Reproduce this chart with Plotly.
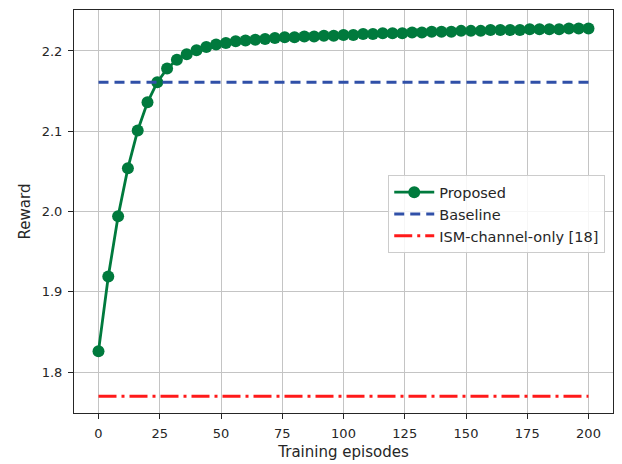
import plotly.graph_objects as go

episodes = list(range(0, 201, 4))
proposed = [1.826, 1.919, 1.994, 2.054, 2.101, 2.136, 2.161, 2.178, 2.189, 2.196,
            2.201, 2.205, 2.208, 2.210, 2.212, 2.213, 2.214, 2.215, 2.216, 2.217,
            2.217, 2.218, 2.218, 2.219, 2.219, 2.220, 2.220, 2.221, 2.221, 2.222,
            2.222, 2.222, 2.223, 2.223, 2.224, 2.224, 2.224, 2.225, 2.225, 2.225,
            2.226, 2.226, 2.226, 2.226, 2.227, 2.227, 2.227, 2.227, 2.228, 2.228,
            2.228]
baseline_x = [0, 200]
baseline = [2.161, 2.161]
ism_x = [0, 200]
ism = [1.770, 1.770]

x_ticks = [0, 25, 50, 75, 100, 125, 150, 175, 200]
y_ticks = [1.8, 1.9, 2.0, 2.1, 2.2]

fig = go.Figure()
fig.add_trace(go.Scatter(x=episodes, y=proposed, mode="lines+markers", name="Proposed",
                         line=dict(color="#007A3D", width=2.8),
                         marker=dict(color="#007A3D", size=12)))
fig.add_trace(go.Scatter(x=baseline_x, y=baseline, mode="lines", name="Baseline",
                         line=dict(color="#3050A8", width=3, dash="10px,6px")))
fig.add_trace(go.Scatter(x=ism_x, y=ism, mode="lines", name="ISM-channel-only [18]",
                         line=dict(color="#FF1A1A", width=3, dash="18px,5px,3px,5px")))

axis_common = dict(showline=True, linecolor="#262626", linewidth=1, mirror=True,
                   showgrid=True, gridcolor="#c4c4c4", gridwidth=1,
                   ticks="outside", ticklen=5, tickcolor="#262626",
                   ticklabelstandoff=3, automargin=False,
                   tickfont=dict(family="DejaVu Sans", size=13, color="#262626"),
                   zeroline=False)

fig.update_xaxes(range=[-10, 210], tickvals=x_ticks,
                 title=dict(text="Training episodes", font=dict(family="DejaVu Sans", size=15, color="#262626"), standoff=6),
                 **axis_common)
fig.update_yaxes(range=[1.749, 2.251], tickvals=y_ticks, ticktext=[f"{v:.1f}" for v in y_ticks],
                 title=dict(text="Reward", font=dict(family="DejaVu Sans", size=15, color="#262626"), standoff=7),
                 **axis_common)

fig.update_layout(width=622, height=464, margin=dict(l=74, r=9, t=10, b=51),
                  plot_bgcolor="white", paper_bgcolor="white",
                  legend=dict(x=0.583, y=0.59, xanchor="left", yanchor="top",
                              bgcolor="rgba(255,255,255,0.85)", bordercolor="#cccccc", borderwidth=1,
                              font=dict(family="DejaVu Sans", size=14.5, color="#262626"),
                              tracegroupgap=0, itemwidth=40))

fig.write_html("out.html")
